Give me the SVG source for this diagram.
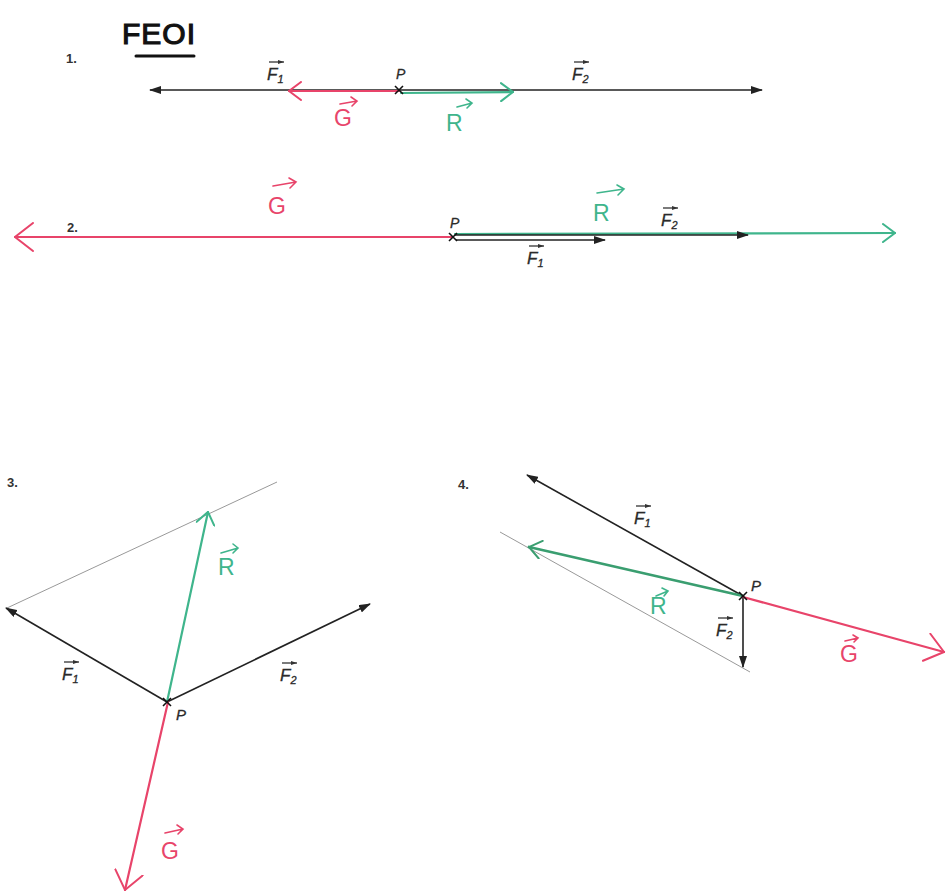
<svg xmlns="http://www.w3.org/2000/svg" width="947" height="895" viewBox="0 0 947 895">
<defs>
<style>
.blk{stroke:#222;stroke-width:1.6;fill:none}
.red{stroke:#e8446a;stroke-width:2.2;fill:none;stroke-linecap:round}
.grn{stroke:#3fb58c;stroke-width:2.2;fill:none;stroke-linecap:round}
.gry{stroke:#999;stroke-width:1;fill:none}
.lbl{font-family:'Liberation Sans',Arial,sans-serif;font-size:17px;fill:#2a2a2a;stroke:#2a2a2a;stroke-width:0.3}
.it{font-style:italic}
.sub{font-size:11px}
.num{font-family:'Liberation Sans',Arial,sans-serif;font-size:13px;font-weight:bold;fill:#333}
.hr{font-family:'Liberation Sans',Arial,sans-serif;font-size:23px;fill:#e8446a}
.hg{font-family:'Liberation Sans',Arial,sans-serif;font-size:23px;fill:#3fb58c}
.ov{stroke:#333;stroke-width:1.3;fill:none}
.ovr{stroke:#e8446a;stroke-width:1.6;fill:none;stroke-linecap:round}
.ovg{stroke:#3fb58c;stroke-width:1.6;fill:none;stroke-linecap:round}
</style>
<marker id="fh" viewBox="0 0 12 8" refX="11" refY="4" markerWidth="12" markerHeight="8" markerUnits="userSpaceOnUse" orient="auto"><path d="M0,0 L12,4 L0,8 Z" fill="#222"/></marker>
<marker id="sh" viewBox="0 0 6 4" refX="6" refY="2" markerWidth="6" markerHeight="5" markerUnits="userSpaceOnUse" orient="auto"><path d="M0,0 L6,2 L0,4 Z" fill="#333"/></marker>
<marker id="rh" viewBox="0 0 14 20" refX="13" refY="10" markerWidth="14" markerHeight="20" markerUnits="userSpaceOnUse" orient="auto"><path d="M1,1 L13,10 L1,19" fill="none" stroke="#e8446a" stroke-width="2" stroke-linecap="round"/></marker>
<marker id="gh" viewBox="0 0 14 20" refX="13" refY="10" markerWidth="14" markerHeight="20" markerUnits="userSpaceOnUse" orient="auto"><path d="M1,1 L13,10 L1,19" fill="none" stroke="#3fb58c" stroke-width="2" stroke-linecap="round"/></marker>
<marker id="gh2" viewBox="0 0 14 20" refX="13" refY="10" markerWidth="14" markerHeight="20" markerUnits="userSpaceOnUse" orient="auto"><path d="M1,1 L13,10 L1,19" fill="none" stroke="#3a9e70" stroke-width="2" stroke-linecap="round"/></marker>
<marker id="rhb" viewBox="0 0 20 30" refX="19" refY="15" markerWidth="20" markerHeight="30" markerUnits="userSpaceOnUse" orient="auto"><path d="M1,1 L19,15 L1,29" fill="none" stroke="#e8446a" stroke-width="2" stroke-linecap="round"/></marker>
</defs>

<g id="title">
<text x="122" y="44" font-family="'Liberation Sans',Arial,sans-serif" font-size="30" fill="#111" stroke="#111" stroke-width="1.2" letter-spacing="1">FEOI</text>
<line x1="136" y1="56" x2="194" y2="56" stroke="#111" stroke-width="3" stroke-linecap="round"/>
</g>

<g id="connectors">
<!-- diagram 1 -->
<line class="blk" x1="399" y1="90" x2="150" y2="90" marker-end="url(#fh)"/>
<line class="blk" x1="399" y1="90" x2="762" y2="90" marker-end="url(#fh)"/>
<line class="red" x1="399" y1="91" x2="289" y2="91" marker-end="url(#rh)"/>
<line class="grn" x1="401" y1="93" x2="513" y2="92" marker-end="url(#gh)"/>
<!-- diagram 2 -->
<line class="red" x1="452" y1="237" x2="15" y2="237" stroke-width="1.6" marker-end="url(#rhb)"/>
<line class="grn" x1="455" y1="234" x2="895" y2="233" stroke-width="1.8" marker-end="url(#gh)"/>
<line class="blk" x1="455" y1="235" x2="748" y2="235" stroke-width="2" marker-end="url(#fh)"/>
<line class="blk" x1="456" y1="240" x2="605" y2="240" marker-end="url(#fh)"/>
<!-- diagram 3 -->
<line class="gry" x1="7" y1="608" x2="277" y2="482"/>
<line class="blk" x1="167" y1="702" x2="6" y2="608" marker-end="url(#fh)"/>
<line class="blk" x1="167" y1="702" x2="370" y2="604" marker-end="url(#fh)"/>
<line class="grn" x1="167" y1="702" x2="208" y2="512" marker-end="url(#gh)"/>
<line class="red" x1="168" y1="702" x2="125" y2="890" marker-end="url(#rhb)"/>
<!-- diagram 4 -->
<line class="gry" x1="500" y1="532" x2="750" y2="672"/>
<line class="blk" x1="743" y1="596" x2="527" y2="475" marker-end="url(#fh)"/>
<line class="grn" x1="743" y1="596" x2="529" y2="547" style="stroke:#3a9e70;stroke-width:2.8" marker-end="url(#gh2)"/>
<line class="blk" x1="743" y1="596" x2="743" y2="667" marker-end="url(#fh)"/>
<line class="red" x1="743" y1="597" x2="944" y2="652" marker-end="url(#rhb)"/>
</g>

<g id="points">
<path d="M395,86 L403,94 M403,86 L395,94" stroke="#111" stroke-width="1.6"/>
<path d="M449,233 L457,241 M457,233 L449,241" stroke="#111" stroke-width="1.6"/>
<path d="M163,698 L171,706 M171,698 L163,706" stroke="#111" stroke-width="1.6"/>
<path d="M739,592 L747,600 M747,592 L739,600" stroke="#111" stroke-width="1.6"/>
</g>

<g id="labels-1">
<text class="num" x="66" y="63">1.</text>
<text class="lbl it" x="267" y="80">F<tspan class="sub" dy="3">1</tspan></text>
<line class="ov" x1="269" y1="62" x2="284" y2="62" marker-end="url(#sh)"/>
<text class="lbl it" x="396" y="79" style="font-size:14px">P</text>
<text class="lbl it" x="572" y="80">F<tspan class="sub" dy="3">2</tspan></text>
<line class="ov" x1="574" y1="62" x2="589" y2="62" marker-end="url(#sh)"/>
<text class="hr" x="334" y="126">G</text>
<path class="ovr" d="M340,104 L357,101 M351,97 L357,101 L352,106"/>
<text class="hg" x="446" y="131">R</text>
<path class="ovg" d="M457,107 L472,103 M466,99 L472,103 L467,108"/>
</g>

<g id="labels-2">
<text class="num" x="67" y="232">2.</text>
<text class="hr" x="268" y="214">G</text>
<path class="ovr" d="M273,186 L296,182 M289,178 L296,182 L290,188"/>
<text class="lbl it" x="450" y="228" style="font-size:14px">P</text>
<text class="hg" x="593" y="221">R</text>
<path class="ovg" d="M597,193 L624,189 M617,185 L624,189 L618,195"/>
<text class="lbl it" x="661" y="226">F<tspan class="sub" dy="3">2</tspan></text>
<line class="ov" x1="663" y1="208" x2="678" y2="208" marker-end="url(#sh)"/>
<text class="lbl it" x="527" y="264">F<tspan class="sub" dy="3">1</tspan></text>
<line class="ov" x1="529" y1="246" x2="544" y2="246" marker-end="url(#sh)"/>
</g>

<g id="labels-3">
<text class="num" x="7" y="487">3.</text>
<text class="lbl it" x="62" y="680">F<tspan class="sub" dy="3">1</tspan></text>
<line class="ov" x1="64" y1="662" x2="79" y2="662" marker-end="url(#sh)"/>
<text class="lbl it" x="280" y="681">F<tspan class="sub" dy="3">2</tspan></text>
<line class="ov" x1="282" y1="663" x2="297" y2="663" marker-end="url(#sh)"/>
<text class="hg" x="218" y="575">R</text>
<path class="ovg" d="M221,553 L238,548 M233,544 L238,548 L233,553"/>
<text class="lbl it" x="176" y="720" style="font-size:15px">P</text>
<text class="hr" x="161" y="859">G</text>
<path class="ovr" d="M165,833 L183,829 M177,825 L183,829 L178,834"/>
</g>

<g id="labels-4">
<text class="num" x="458" y="489">4.</text>
<text class="lbl it" x="634" y="524">F<tspan class="sub" dy="3">1</tspan></text>
<line class="ov" x1="636" y1="506" x2="651" y2="506" marker-end="url(#sh)"/>
<text class="hg" x="650" y="614">R</text>
<path class="ovg" d="M656,596 L668,591 M662,588 L668,591 L664,596"/>
<text class="lbl it" x="716" y="636">F<tspan class="sub" dy="3">2</tspan></text>
<line class="ov" x1="718" y1="618" x2="733" y2="618" marker-end="url(#sh)"/>
<text class="lbl it" x="751" y="591" style="font-size:15px">P</text>
<text class="hr" x="840" y="662">G</text>
<path class="ovr" d="M845,641 L858,638 M853,635 L858,638 L854,642"/>
</g>
</svg>
